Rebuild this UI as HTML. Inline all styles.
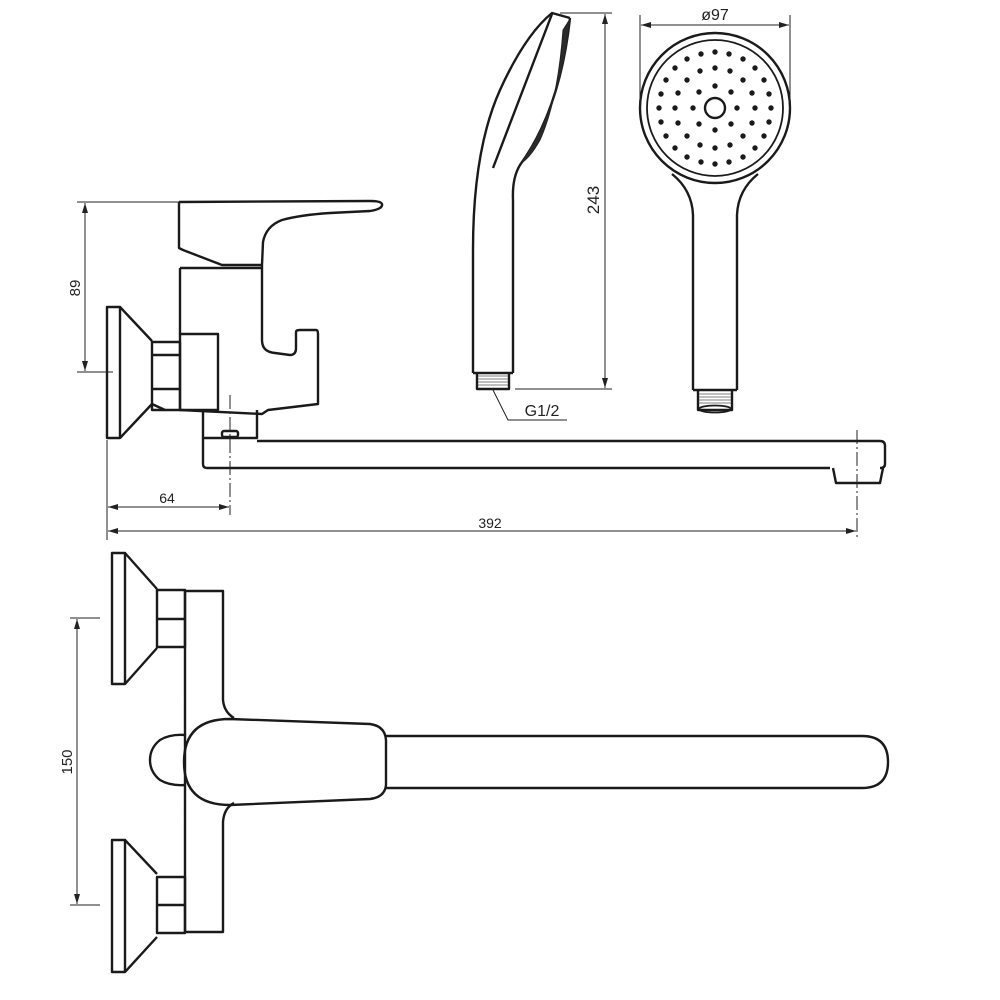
<!DOCTYPE html>
<html><head><meta charset="utf-8"><style>
html,body{margin:0;padding:0;background:#fff;}
svg{display:block;}
text{font-family:"Liberation Sans",sans-serif;fill:#222;}
</style></head><body>
<svg width="1000" height="1000" viewBox="0 0 1000 1000" xmlns="http://www.w3.org/2000/svg">
<defs>
<marker id="a" viewBox="0 0 10 6" refX="10" refY="3" markerWidth="10" markerHeight="6" orient="auto-start-reverse" markerUnits="userSpaceOnUse"><path d="M0,0 L10,3 L0,6 z" fill="#222"/></marker>
</defs>
<g fill="none" stroke="#1a1a1a" stroke-width="2.4" stroke-linejoin="round">
<rect x="107" y="307" width="13" height="131"/>
<path d="M120,307 L152,341 M120,438 L152,404"/>
<path d="M152,342 L180,342 L180,410 L152,410 Z M152,355 L180,355 M152,389 L180,389"/>
<path d="M152,404 L165,410"/>
<rect x="180" y="334" width="38" height="76"/>
<path d="M180,268 L180,334 M180,268 L262,268 M262,268 L262,340 Q262,352 275,353 L290,355 Q296,355 296,348 L296,332 Q296,330 300,330 L316,330 Q318,330 318,334 L318,404 L268,410 L262,414 L180,410"/>
<path d="M179,202 L179,248 L183,250 L222,265 L262,265 L263,242 Q266,226 282,220 Q300,215 330,213 L370,211 Q383,209 382,204 Q381,201 370,201 L179,202"/>
<path d="M262,265 L262,268"/>
<path d="M203,410 L203,438 L257,438 L257,410"/>
<rect x="222" y="431" width="16" height="6" rx="2"/>
<path d="M203,438 L203,464 Q203,468 207,468 L830,468 M257,441 L880,441 Q885,441 885,446 L885,464 Q885,468 880,468"/>
<path d="M833,468 L836,483 L880,483 L883,468"/>
<path d="M473,373 L473,250 Q473,150 500,90 Q525,35 552,13 L570,18"/>
<path d="M513,373 L513,200 Q512,178 520,165 Q560,110 570,18"/>
<path d="M493,168 L552,14"/>
<path d="M473,373 L513,373 M477,373 L477,389 L509,389 L509,373"/>
<circle cx="715" cy="108" r="75"/>
<circle cx="715" cy="108" r="68" stroke-width="1.8"/>
<circle cx="715" cy="108" r="10"/>
<path d="M672,174 Q692,190 693,215 L693,390 M758,174 Q738,190 737,215 L737,390 M693,390 L737,390"/>
<path d="M698,390 L698,410 L732,410 L732,390"/>
<ellipse cx="715" cy="409" rx="16" ry="3.5" stroke-width="1.8"/>
<rect x="112" y="553" width="13" height="131"/>
<path d="M125,553 L157,589 M125,684 L157,648"/>
<path d="M157,590 L185,590 L185,647 L157,647 Z M157,619 L185,619"/>
<rect x="112" y="840" width="13" height="132"/>
<path d="M125,840 L157,874 M125,972 L157,937"/>
<path d="M157,877 L185,877 L185,933 L157,933 Z M157,905 L185,905"/>
<path d="M185,591 L223,591 L223,700 Q224,712 234,718 M234,803 Q224,808 223,822 L223,932 L185,932 L185,591"/>
<path d="M185,735 Q170,734 160,740 Q150,748 150,760 Q150,772 160,780 Q170,786 185,785"/>
<path d="M230,719 L370,724 Q385,726 386,740 L386,785 Q385,797 370,799 L230,805 Q184,805 184,762 Q184,719 230,719 Z"/>
<path d="M386,736 L862,736 Q888,736 888,762 Q888,788 862,788 L386,788"/>
</g>
<g stroke="#222" stroke-width="1" fill="none">
<path d="M77,202 L180,202 M77,372 L113,372"/>
<path d="M85,203 L85,371" marker-start="url(#a)" marker-end="url(#a)"/>
<path d="M107,440 L107,540"/>
<path d="M230,395 L230,515 M857,430 L857,540" stroke-dasharray="14 3 2 3"/>
<path d="M108,507 L229,507" marker-start="url(#a)" marker-end="url(#a)"/>
<path d="M108,531 L856,531" marker-start="url(#a)" marker-end="url(#a)"/>
<path d="M560,13 L612,13 M515,389 L612,389"/>
<path d="M605,14 L605,388" marker-start="url(#a)" marker-end="url(#a)"/>
<path d="M493,390 L508,420 L567,420"/>
<path d="M640,15 L640,110 M790,15 L790,110"/>
<path d="M641,25 L789,25" marker-start="url(#a)" marker-end="url(#a)"/>
<path d="M70,618 L100,618 M70,905 L100,905"/>
<path d="M77,619 L77,904" marker-start="url(#a)" marker-end="url(#a)"/>
</g>
<text x="80" y="288" font-size="15" text-anchor="middle" transform="rotate(-90 80 288)">89</text>
<text x="167" y="503" font-size="14" text-anchor="middle">64</text>
<text x="490" y="528" font-size="14" text-anchor="middle">392</text>
<text x="599" y="200" font-size="17" text-anchor="middle" transform="rotate(-90 599 200)">243</text>
<text x="542" y="416" font-size="16" text-anchor="middle">G1/2</text>
<text x="715" y="20" font-size="16" text-anchor="middle">ø97</text>
<text x="72" y="762" font-size="15" text-anchor="middle" transform="rotate(-90 72 762)">150</text>
<path d="M570,19 Q562,105 520,164 Q530,158 540,140 Q558,100 563,30 Z" fill="#2a2a2a" stroke="#222" stroke-width="1"/>
<g fill="#1a1a1a">
<circle cx="737" cy="108" r="2.7"/><circle cx="731" cy="124" r="2.7"/><circle cx="715" cy="130" r="2.7"/><circle cx="699" cy="124" r="2.7"/><circle cx="693" cy="108" r="2.7"/><circle cx="699" cy="92" r="2.7"/><circle cx="715" cy="86" r="2.7"/><circle cx="731" cy="92" r="2.7"/>
<circle cx="755" cy="108" r="2.7"/><circle cx="752" cy="123" r="2.7"/><circle cx="743" cy="136" r="2.7"/><circle cx="730" cy="145" r="2.7"/><circle cx="715" cy="148" r="2.7"/><circle cx="700" cy="145" r="2.7"/><circle cx="687" cy="136" r="2.7"/><circle cx="678" cy="123" r="2.7"/><circle cx="675" cy="108" r="2.7"/><circle cx="678" cy="93" r="2.7"/><circle cx="687" cy="80" r="2.7"/><circle cx="700" cy="71" r="2.7"/><circle cx="715" cy="68" r="2.7"/><circle cx="730" cy="71" r="2.7"/><circle cx="743" cy="80" r="2.7"/><circle cx="752" cy="93" r="2.7"/>
<circle cx="771" cy="108" r="2.7"/><circle cx="769" cy="122" r="2.7"/><circle cx="764" cy="136" r="2.7"/><circle cx="755" cy="148" r="2.7"/><circle cx="743" cy="157" r="2.7"/><circle cx="729" cy="162" r="2.7"/><circle cx="715" cy="164" r="2.7"/><circle cx="701" cy="162" r="2.7"/><circle cx="687" cy="157" r="2.7"/><circle cx="675" cy="148" r="2.7"/><circle cx="666" cy="136" r="2.7"/><circle cx="661" cy="122" r="2.7"/><circle cx="659" cy="108" r="2.7"/><circle cx="661" cy="94" r="2.7"/><circle cx="666" cy="80" r="2.7"/><circle cx="675" cy="68" r="2.7"/><circle cx="687" cy="59" r="2.7"/><circle cx="701" cy="54" r="2.7"/><circle cx="715" cy="52" r="2.7"/><circle cx="729" cy="54" r="2.7"/><circle cx="743" cy="59" r="2.7"/><circle cx="755" cy="68" r="2.7"/><circle cx="764" cy="80" r="2.7"/><circle cx="769" cy="94" r="2.7"/>
</g>
<g stroke="#555" stroke-width="0.8">
<path d="M478,376 L508,376 M478,379 L508,379 M478,382 L508,382 M478,385 L508,385 M699,394 L731,394 M699,397 L731,397 M699,400 L731,400 M699,403 L731,403"/>
</g>
</svg>
</body></html>
